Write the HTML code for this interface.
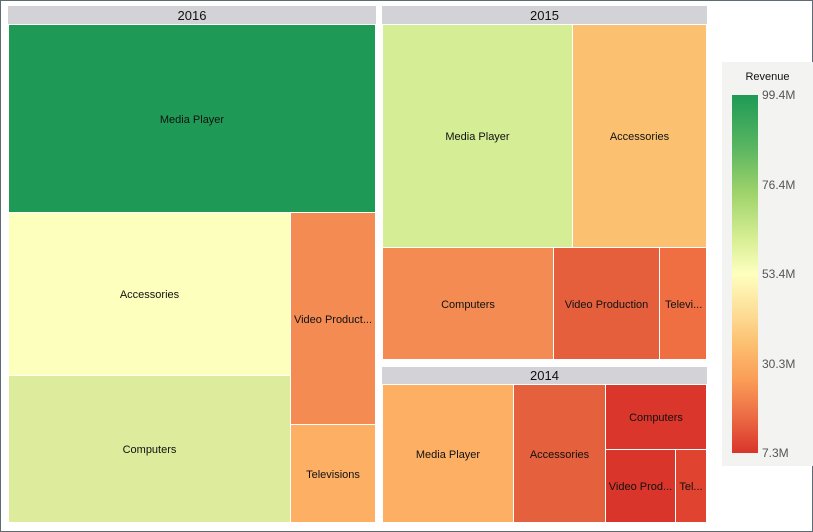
<!DOCTYPE html>
<html><head><style>
body{margin:0;width:813px;height:532px;position:relative;background:#fff;font-family:"Liberation Sans",sans-serif;overflow:hidden}
.frame{position:absolute;left:0;top:0;width:811px;height:530px;border:1px solid #5f6b73}
.h{position:absolute;background:#d3d2d6;font-size:13px;color:#111;text-align:center;line-height:19px}
.t{position:absolute;display:flex;align-items:center;justify-content:center;font-size:11px;color:#111;white-space:nowrap;overflow:hidden;padding-top:2px;box-sizing:border-box}
.lg{position:absolute;left:722px;top:62px;width:91px;height:404px;background:#f3f4f2}
.lab{position:absolute;left:762px;font-size:12px;color:#555}
</style></head><body>
<div class="frame"></div>
<div class="h" style="left:8px;top:6px;width:368px;height:18px">2016</div>
<div class="t" style="left:9px;top:25px;width:366px;height:187px;background:#1e9a56">Media Player</div>
<div class="t" style="left:9px;top:213px;width:281px;height:162px;background:#fdffbd">Accessories</div>
<div class="t" style="left:9px;top:376px;width:281px;height:146px;background:#dcec9c">Computers</div>
<div class="t" style="left:291px;top:213px;width:84px;height:211px;background:#f38b52">Video Product...</div>
<div class="t" style="left:291px;top:425px;width:84px;height:97px;background:#fdaf63">Televisions</div>

<div class="h" style="left:382px;top:6px;width:325px;height:18px">2015</div>
<div class="t" style="left:383px;top:25px;width:189px;height:222px;background:#d5ed94">Media Player</div>
<div class="t" style="left:573px;top:25px;width:133px;height:222px;background:#fbc170">Accessories</div>
<div class="t" style="left:383px;top:248px;width:170px;height:111px;background:#f38b52">Computers</div>
<div class="t" style="left:554px;top:248px;width:105px;height:111px;background:#e55f3d">Video Production</div>
<div class="t" style="left:660px;top:248px;width:46px;height:111px;background:#ef6f43;justify-content:flex-start;padding-left:5px">Televi...</div>

<div class="h" style="left:382px;top:367px;width:325px;height:17px;line-height:18px">2014</div>
<div class="t" style="left:383px;top:385px;width:130px;height:137px;background:#fdaf63">Media Player</div>
<div class="t" style="left:514px;top:385px;width:91px;height:137px;background:#e5603c">Accessories</div>
<div class="t" style="left:606px;top:385px;width:100px;height:64px;background:#da362b">Computers</div>
<div class="t" style="left:606px;top:450px;width:69px;height:72px;background:#d9352a">Video Prod...</div>
<div class="t" style="left:676px;top:450px;width:30px;height:72px;background:#e0432f">Tel...</div>

<div class="lg"></div>
<div style="position:absolute;left:722px;top:71px;width:91px;text-align:center;font-size:11px;color:#111">Revenue</div>
<div style="position:absolute;left:732px;top:95px;width:26px;height:358px;background:linear-gradient(to bottom,#1e9a56 0%,#5bb661 15%,#9dd26a 27%,#d6ee93 40%,#feffbf 50%,#fde09a 60%,#fcbe6f 70%,#fa9b56 80%,#ec6a44 90%,#d9352a 100%)"></div>
<div class="lab" style="top:88px">99.4M</div>
<div class="lab" style="top:178px">76.4M</div>
<div class="lab" style="top:267px">53.4M</div>
<div class="lab" style="top:357px">30.3M</div>
<div class="lab" style="top:446px">7.3M</div>
</body></html>
